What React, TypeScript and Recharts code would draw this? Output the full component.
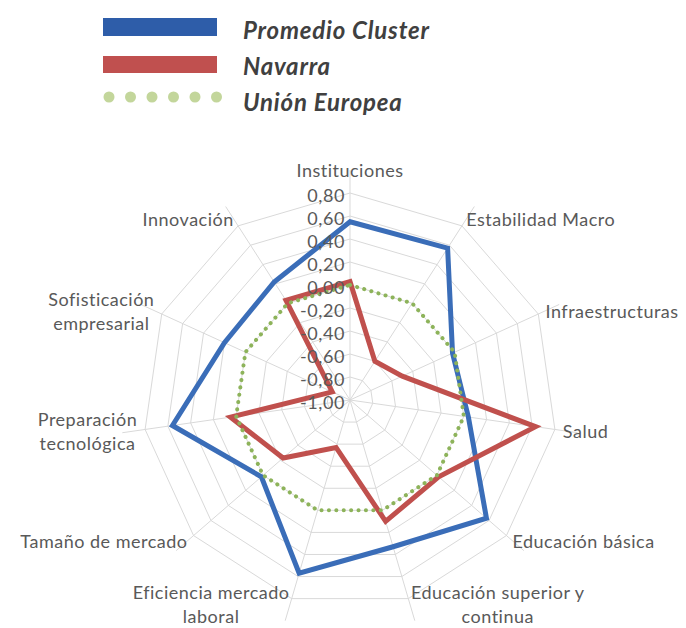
import React from 'react';
import { RadarChart, PolarGrid, PolarAngleAxis, PolarRadiusAxis, Radar } from 'recharts';

const categories = [
  'Instituciones',
  'Estabilidad Macro',
  'Infraestructuras',
  'Salud',
  'Educación básica',
  'Educación superior y\ncontinua',
  'Eficiencia mercado\nlaboral',
  'Tamaño de mercado',
  'Preparación\ntecnológica',
  'Sofisticación\nempresarial',
  'Innovación',
];
const promedioCluster = [0.55, 0.57, -0.02, 0.04, 0.57, 0.33, 0.57, 0.02, 0.56, 0.2, 0.22];
const navarra = [0.03, -0.6, -0.5, 0.63, 0.02, 0.1, -0.57, -0.23, 0.05, -0.83, 0.03];
const unionEuropea = [0, 0, 0, 0, 0, 0, 0, 0, 0, 0, 0];
const radiusTicks = [-1, -0.8, -0.6, -0.4, -0.2, 0, 0.2, 0.4, 0.6, 0.8];

const seriesNames = ['Promedio Cluster', 'Navarra', 'Unión Europea'];

const data = categories.map((c, i) => ({
  category: c,
  cluster: promedioCluster[i],
  navarra: navarra[i],
  ue: unionEuropea[i],
}));

const W = 678;
const H = 620;
const CX = 342;
const CY = 392;
const R = 207; // radius of the 0,80 ring
const AXIS_R = 230; // radius of domain max (1,00)
const LABEL_FONT = 'Lato, "Open Sans", sans-serif';
const LABEL_SIZE = 18;
const LABEL_LS = 0.5;

let canvasCtx: CanvasRenderingContext2D | null = null;
function measure(text: string): number {
  if (typeof document === 'undefined') return text.length * 9;
  if (!canvasCtx) {
    const c = document.createElement('canvas');
    canvasCtx = c.getContext('2d');
  }
  if (!canvasCtx) return text.length * 9;
  canvasCtx.font = `${LABEL_SIZE}px Lato`;
  return canvasCtx.measureText(text).width + text.length * LABEL_LS;
}

const fmt = (v: number) => {
  const s = Math.abs(v) < 1e-9 ? '0.00' : v.toFixed(2);
  return s.replace('.', ',');
};

const AngleTick = (props: any) => {
  const { payload } = props;
  const angle = payload.coordinate as number; // degrees, 90 = top
  const rad = (-angle * Math.PI) / 180;
  const r = R + 8;
  const px = CX + r * Math.cos(rad);
  const py = CY + r * Math.sin(rad);
  const dx = Math.cos(rad);
  const dy = Math.sin(rad);
  const lines = String(payload.value).split('\n');
  const lineH = 24;
  const blockW = Math.max(...lines.map(measure));
  let anchorX: number;
  if (dx > 0.1) anchorX = px + blockW / 2;
  else if (dx < -0.1) anchorX = px - blockW / 2;
  else anchorX = px;
  let centerY = py;
  if (Math.abs(dx) <= 0.1) centerY = py + (dy < 0 ? -15 : 15);
  if (lines.length > 1 && dy > 0.5) centerY -= 2;
  const startY = centerY - ((lines.length - 1) * lineH) / 2;
  return (
    <text
      textAnchor="middle"
      fontFamily={LABEL_FONT}
      fontSize={LABEL_SIZE}
      letterSpacing={LABEL_LS}
      fill="#595959"
    >
      {lines.map((l, i) => (
        <tspan key={i} x={anchorX} y={startY + i * lineH} dominantBaseline="central">
          {l}
        </tspan>
      ))}
    </text>
  );
};

const RadiusTick = (props: any) => {
  const { x, y, payload } = props;
  return (
    <text
      x={x - 5}
      y={y + 2}
      textAnchor="end"
      dominantBaseline="central"
      fontFamily={LABEL_FONT}
      fontSize={18}
      letterSpacing={0.6}
      fill="#595959"
    >
      {fmt(payload.value)}
    </text>
  );
};

const Legend = () => (
  <svg
    width={W}
    height={120}
    style={{ position: 'absolute', left: 0, top: 0, pointerEvents: 'none' }}
  >
    <rect x={95} y={10} width={114} height={18} fill="#2E5DA9" />
    <rect x={95} y={48} width={114} height={17} fill="#C0504F" />
    {[0, 1, 2, 3, 4, 5].map((i) => (
      <circle key={i} cx={101 + i * 21.5} cy={89} r={5.5} fill="#C3D69B" />
    ))}
    {seriesNames.map((n, i) => (
      <text
        key={n}
        x={235}
        y={31 + i * 36}
        fontFamily={LABEL_FONT}
        fontStyle="italic"
        fontWeight={700}
        fontSize={24}
        letterSpacing={0.8}
        fill="#404040"
      >
        {n}
      </text>
    ))}
  </svg>
);

export default function App() {
  return (
    <div style={{ position: 'relative', width: W, height: H }}>
      <RadarChart
        width={W}
        height={H}
        data={data}
        cx={CX}
        cy={CY}
        outerRadius={AXIS_R}
        margin={{ top: 0, right: 0, bottom: 0, left: 0 }}
      >
        <PolarGrid
          stroke="#d9d9d9"
          strokeWidth={1}
          gridType="polygon"
          outerRadius={R}
        />
        <PolarAngleAxis dataKey="category" tick={<AngleTick />} tickLine={false} axisLine={false} />
        <PolarRadiusAxis
          angle={90}
          type="number"
          domain={[-1, 1]}
          ticks={radiusTicks}
          allowDataOverflow
          axisLine={false}
          tick={<RadiusTick />}
        />
        <Radar
          name={seriesNames[0]}
          dataKey="cluster"
          stroke="#3A6DB8"
          strokeWidth={5}
          fill="none"
          fillOpacity={0}
          dot={false}
          isAnimationActive={false}
        />
        <Radar
          name={seriesNames[1]}
          dataKey="navarra"
          stroke="#C0504D"
          strokeWidth={5}
          fill="none"
          fillOpacity={0}
          dot={false}
          isAnimationActive={false}
        />
        <Radar
          name={seriesNames[2]}
          dataKey="ue"
          stroke="#8DB35A"
          strokeWidth={4}
          strokeDasharray="0.1 7.3"
          strokeLinecap="round"
          fill="none"
          fillOpacity={0}
          dot={false}
          isAnimationActive={false}
        />
      </RadarChart>
      <Legend />
    </div>
  );
}
